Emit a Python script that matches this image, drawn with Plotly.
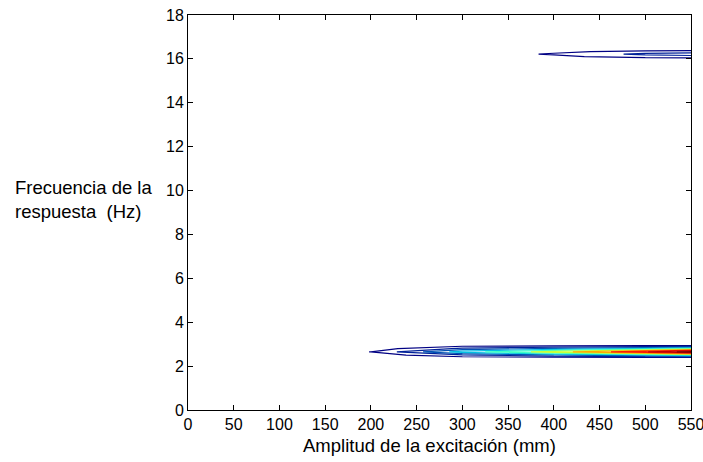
import plotly.graph_objects as go

# Excitation amplitude grid (mm)
amplitud = [0, 100, 200, 300, 400, 500, 550]
# Response frequency grid (Hz)
frecuencia = [0.0, 2.38, 2.5, 2.65, 2.8, 2.95, 16.0, 16.1, 16.22, 16.33, 16.42, 18.0]

# Response magnitude table (rows follow frecuencia, columns follow amplitud)
z_0 =     [0, 0, 0, 0, 0, 0, 0]
z_238 =   [0, 0, 0, 0, 0, 0, 0]
z_250 =   [0, 0, 0, 1.3, 2.3, 3.3, 4.2]
z_265 =   [0, 0, 0.51, 4.0, 6.0, 8.4, 10.0]
z_280 =   [0, 0, 0, 1.7, 2.7, 3.7, 4.6]
z_295 =   [0, 0, 0, 0, 0, 0, 0]
z_1600 =  [0, 0, 0, 0, 0, 0, 0]
z_1610 =  [0, 0, 0, 0, 0.3, 0.9, 1.1]
z_1622 =  [0, 0, 0, 0, 0.6, 1.78, 2.0]
z_1633 =  [0, 0, 0, 0, 0.3, 0.8, 1.0]
z_1642 =  [0, 0, 0, 0, 0, 0, 0]
z_18 =    [0, 0, 0, 0, 0, 0, 0]

z = [z_0, z_238, z_250, z_265, z_280, z_295, z_1600, z_1610, z_1622, z_1633, z_1642, z_18]

x_ticks = [0, 50, 100, 150, 200, 250, 300, 350, 400, 450, 500, 550]
y_ticks = [0, 2, 4, 6, 8, 10, 12, 14, 16, 18]

FONT = "Liberation Sans, Arial"

fig = go.Figure()
fig.add_trace(go.Contour(
    x=amplitud, y=frecuencia, z=z,
    contours=dict(coloring="lines", start=0.5, end=9.5, size=1, showlabels=False),
    colorscale="Jet", zmin=0.5, zmax=9.5,
    line=dict(width=1.2, smoothing=0),
    showscale=False, hoverinfo="skip",
))

axis_common = dict(
    showline=True, linecolor="black", linewidth=1, mirror="ticks",
    ticks="inside", ticklen=5, tickcolor="black",
    showgrid=False, zeroline=False, automargin=False,
    ticklabeloverflow="allow",
    tickfont=dict(family=FONT, size=16, color="black"),
)

fig.update_layout(
    width=703, height=462,
    margin=dict(l=188, r=12, t=15, b=52),
    paper_bgcolor="white", plot_bgcolor="white",
    font=dict(family=FONT, color="black"),
    xaxis=dict(range=[0, 550], tickvals=x_ticks, ticktext=[str(v) for v in x_ticks],
               **axis_common),
    yaxis=dict(range=[0, 18], tickvals=y_ticks, ticktext=[str(v) for v in y_ticks],
               **axis_common),
    annotations=[
        dict(
            text="Frecuencia de la<br>respuesta  (Hz)", xref="paper", yref="paper",
            x=-0.348, y=0.532, xanchor="left", yanchor="middle", align="left",
            showarrow=False, font=dict(family=FONT, size=18.5, color="black"),
        ),
        dict(
            text="Amplitud de la excitación (mm)", xref="paper", yref="paper",
            x=0.481, y=-0.091, xanchor="center", yanchor="middle",
            showarrow=False, font=dict(family=FONT, size=18.5, color="black"),
        ),
    ],
)

fig.write_html("out.html")
